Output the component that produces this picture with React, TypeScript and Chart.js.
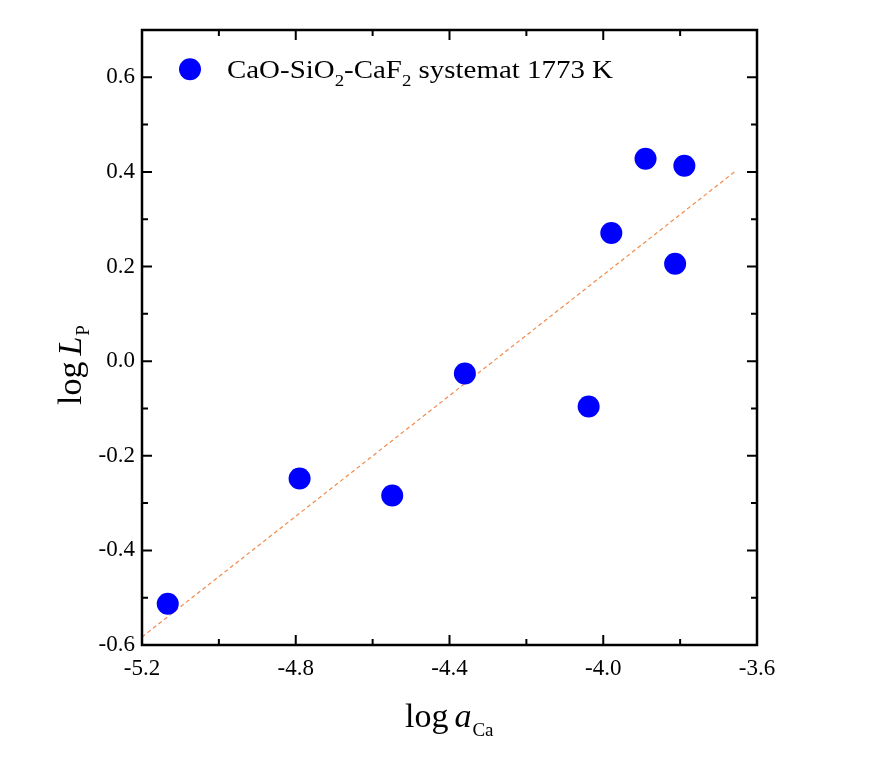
import React, { useEffect, useRef } from "react";
import { Chart, registerables } from "chart.js";

Chart.register(...registerables);

const logACa = [-5.133, -4.79, -4.549, -4.36, -4.038, -3.979, -3.89, -3.813, -3.789];
const logLP = [-0.513, -0.248, -0.284, -0.026, -0.096, 0.271, 0.428, 0.206, 0.413];
const fitX = [-5.2, -3.657];
const fitY = [-0.583, 0.401];
const xMajorTicks = [-5.2, -4.8, -4.4, -4.0, -3.6];
const xMinorTicks = [-5.0, -4.6, -4.2, -3.8];
const yMajorTicks = [-0.6, -0.4, -0.2, 0.0, 0.2, 0.4, 0.6];
const yMinorTicks = [-0.5, -0.3, -0.1, 0.1, 0.3, 0.5, 0.7];
const legendLabel = "CaO-SiO2-CaF2 systemat 1773 K";

const SERIF = "'Liberation Serif', 'DejaVu Serif', serif";

const framePlugin = {
  id: "frame",
  afterDraw(chart: any) {
    const { ctx, chartArea } = chart;
    const xs = chart.scales.x;
    const ys = chart.scales.y;
    const { left, right, top, bottom } = chartArea;
    ctx.save();
    ctx.strokeStyle = "#000";
    ctx.lineWidth = 2.5;
    ctx.strokeRect(left, top, right - left, bottom - top);
    ctx.lineWidth = 2;
    const major = 10;
    const minor = 6;
    const vt = (v: number, len: number) => {
      const p = xs.getPixelForValue(v);
      ctx.beginPath();
      ctx.moveTo(p, bottom);
      ctx.lineTo(p, bottom - len);
      ctx.moveTo(p, top);
      ctx.lineTo(p, top + len);
      ctx.stroke();
    };
    const ht = (v: number, len: number) => {
      const p = ys.getPixelForValue(v);
      ctx.beginPath();
      ctx.moveTo(left, p);
      ctx.lineTo(left + len, p);
      ctx.moveTo(right, p);
      ctx.lineTo(right - len, p);
      ctx.stroke();
    };
    xMajorTicks.forEach((v) => vt(v, major));
    xMinorTicks.forEach((v) => vt(v, minor));
    yMajorTicks.forEach((v) => ht(v, major));
    yMinorTicks.forEach((v) => ht(v, minor));

    ctx.fillStyle = "#000";
    ctx.textBaseline = "alphabetic";
    ctx.textAlign = "left";
    const f1 = `34px ${SERIF}`;
    const f2 = `italic 34px ${SERIF}`;
    const f3 = `19px ${SERIF}`;
    const gap = 6;

    // x axis title: log a_Ca
    const xby = 727;
    ctx.font = f1;
    const w1 = ctx.measureText("log").width;
    ctx.font = f2;
    const w2 = ctx.measureText("a").width;
    ctx.font = f3;
    const w3 = ctx.measureText("Ca").width;
    let sx = 405;
    ctx.font = f1;
    ctx.fillText("log", sx, xby);
    sx += w1 + gap;
    ctx.font = f2;
    ctx.fillText("a", sx, xby);
    sx += w2 + 1;
    ctx.font = f3;
    ctx.fillText("Ca", sx, xby + 9);

    // y axis title: log L_P
    ctx.save();
    ctx.translate(81, 405);
    ctx.rotate(-Math.PI / 2);
    ctx.font = f1;
    const v1 = ctx.measureText("log").width;
    ctx.font = f2;
    const v2 = ctx.measureText("L").width;
    let sy = 0;
    ctx.font = f1;
    ctx.fillText("log", sy, 0);
    sy += v1 + gap;
    ctx.font = f2;
    ctx.fillText("L", sy, 0);
    sy += v2 + 1;
    ctx.font = f3;
    ctx.fillText("P", sy, 8);
    ctx.restore();

    // legend
    const lx = 190;
    const ly = ys.getPixelForValue(0.6) - 8;
    ctx.fillStyle = "#0000FF";
    ctx.beginPath();
    ctx.arc(lx, ly, 11, 0, Math.PI * 2);
    ctx.fill();
    ctx.fillStyle = "#000";
    const parts: [string, boolean][] = [
      ["CaO-SiO", false],
      ["2", true],
      ["-CaF", false],
      ["2", true],
      [" systemat 1773 K", false],
    ];
    const base = ly + 9;
    const mainF = `26px ${SERIF}`;
    const subF = `17px ${SERIF}`;
    let total = 0;
    parts.forEach(([t, s]) => {
      ctx.font = s ? subF : mainF;
      total += ctx.measureText(t).width;
    });
    const targetW = 386;
    ctx.save();
    ctx.translate(227, base);
    ctx.scale(targetW / total, 1);
    let tx = 0;
    parts.forEach(([t, s]) => {
      ctx.font = s ? subF : mainF;
      ctx.fillText(t, tx, s ? 8 : 0);
      tx += ctx.measureText(t).width;
    });
    ctx.restore();
    ctx.restore();
  },
};

export default function App() {
  const ref = useRef<HTMLCanvasElement>(null);
  useEffect(() => {
    if (!ref.current) return;
    const chart = new Chart(ref.current, {
      type: "scatter",
      data: {
        datasets: [
          {
            label: legendLabel,
            data: logACa.map((x, i) => ({ x, y: logLP[i] })),
            backgroundColor: "#0000FF",
            borderColor: "#0000FF",
            pointRadius: 11,
            pointHoverRadius: 11,
            borderWidth: 0,
          },
          {
            label: "fit",
            type: "line",
            data: fitX.map((x, i) => ({ x, y: fitY[i] })),
            borderColor: "#F08A4B",
            borderWidth: 1.2,
            borderDash: [4, 3],
            pointRadius: 0,
            fill: false,
          } as any,
        ],
      },
      options: {
        responsive: false,
        animation: false,
        layout: { padding: { top: 30, right: 113, left: 0, bottom: 0 } },
        plugins: { legend: { display: false }, tooltip: { enabled: false } },
        scales: {
          x: {
            type: "linear",
            min: -5.2,
            max: -3.6,
            afterFit: (s: any) => {
              s.height = 112;
            },
            afterBuildTicks: (s: any) => {
              s.ticks = xMajorTicks.map((v) => ({ value: v }));
            },
            grid: { display: false, drawTicks: false },
            border: { display: false },
            ticks: {
              padding: 10,
              color: "#000",
              font: { family: SERIF, size: 23 },
              callback: (v: any) => Number(v).toFixed(1),
              maxRotation: 0,
            },
          },
          y: {
            type: "linear",
            min: -0.6,
            max: 0.7,
            afterFit: (s: any) => {
              s.width = 142;
            },
            afterBuildTicks: (s: any) => {
              s.ticks = yMajorTicks.map((v) => ({ value: v }));
            },
            grid: { display: false, drawTicks: false },
            border: { display: false },
            ticks: {
              padding: 7,
              color: "#000",
              font: { family: SERIF, size: 23 },
              callback: (v: any) => Number(v).toFixed(1),
            },
          },
        },
      },
      plugins: [framePlugin],
    });
    return () => chart.destroy();
  }, []);
  return (
    <div style={{ position: "absolute", left: 0, top: 0, width: 870, height: 757, background: "#fff" }}>
      <canvas ref={ref} width={870} height={757} style={{ width: 870, height: 757 }} />
    </div>
  );
}
